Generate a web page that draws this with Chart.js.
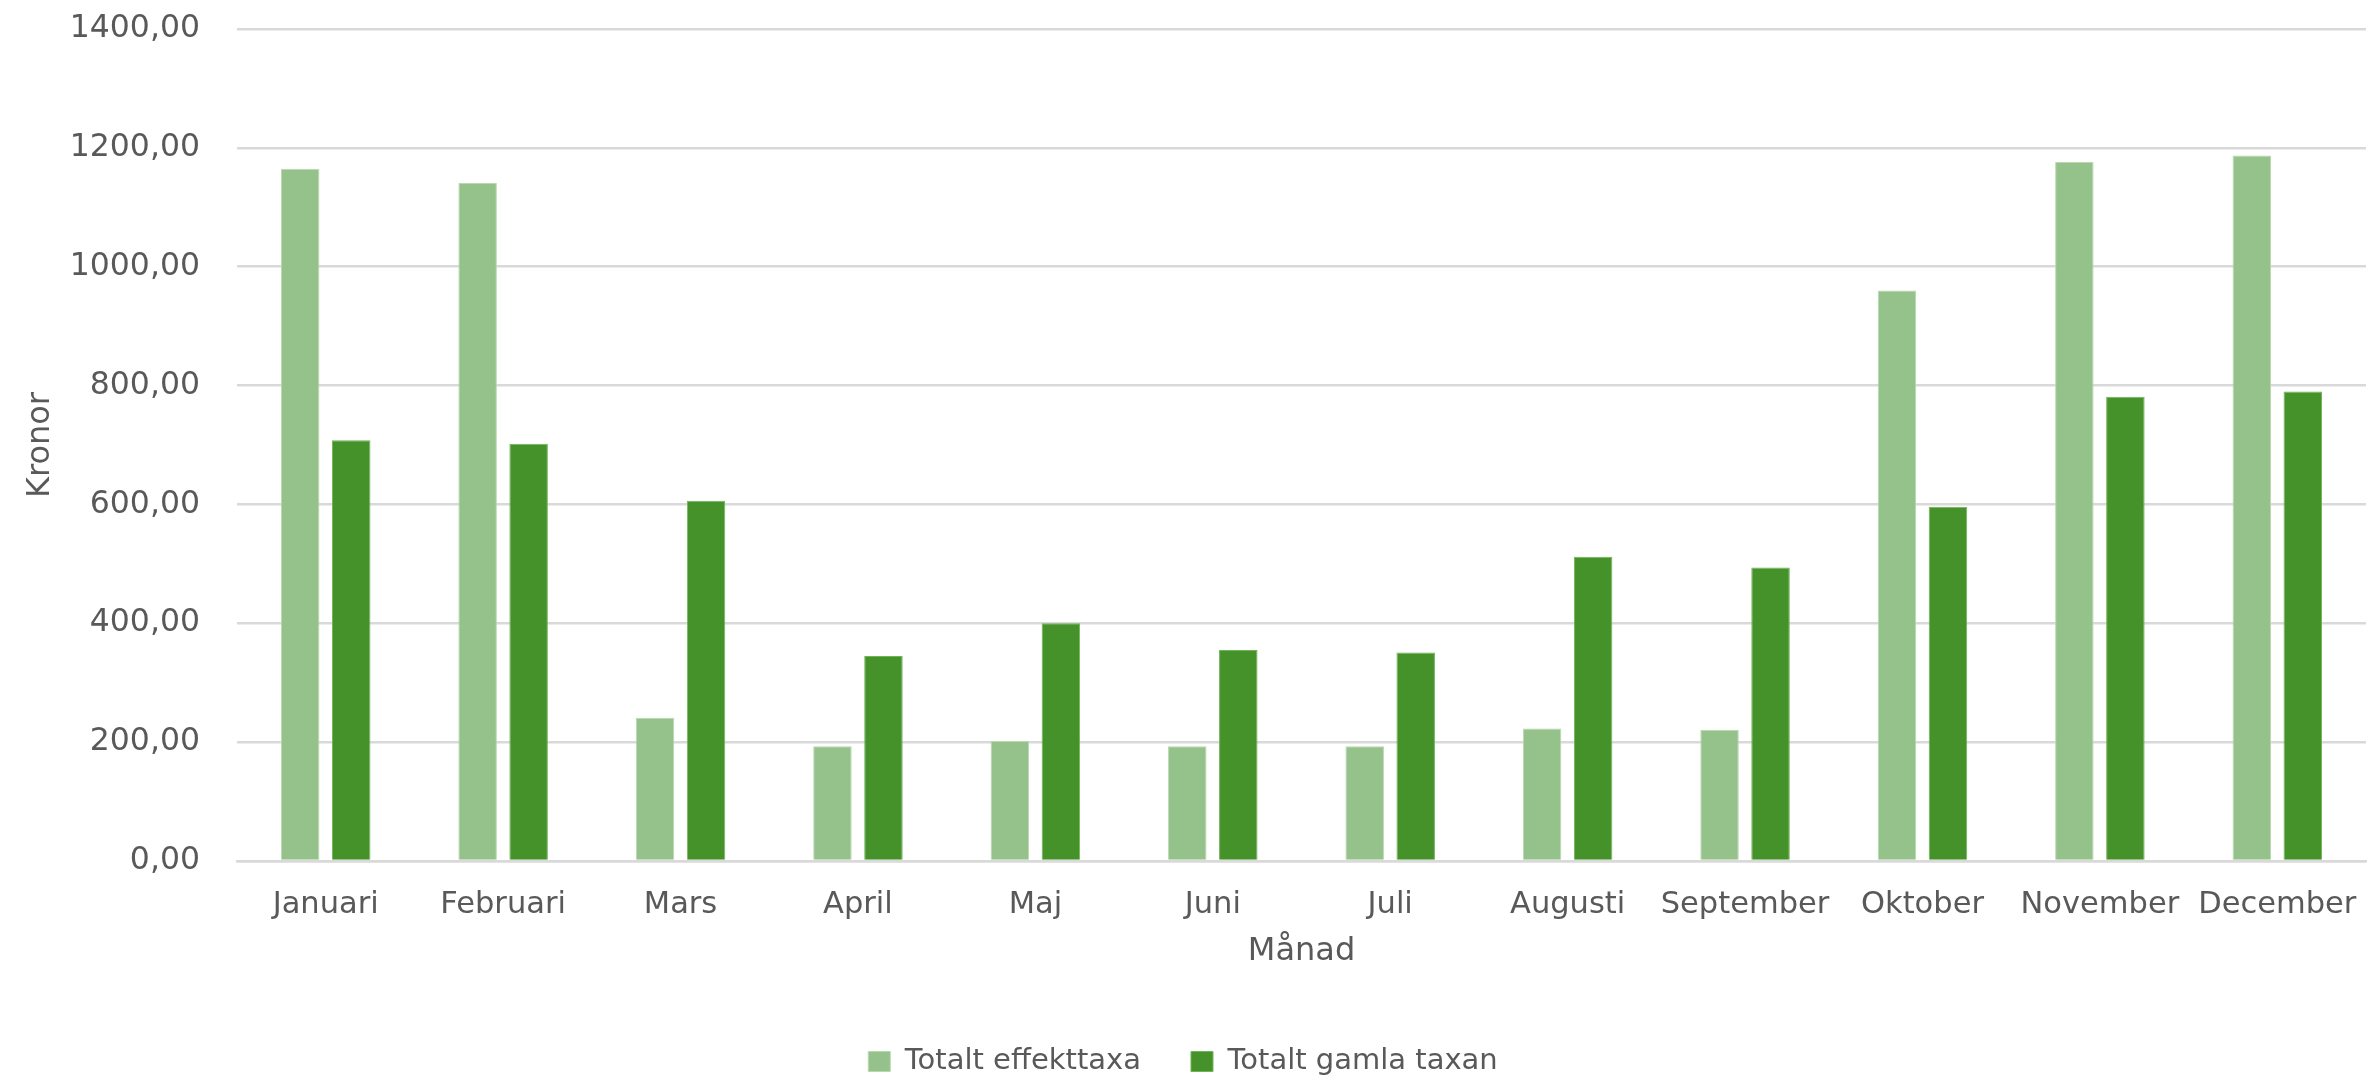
<!DOCTYPE html>
<html>
<head>
<meta charset="utf-8">
<script src="https://cdn.jsdelivr.net/npm/chart.js@4/dist/chart.umd.min.js"></script>
<style>
  html, body { margin: 0; padding: 0; background: #ffffff; }
  #wrap { width: 2367px; height: 1081px; }
</style>
</head>
<body>
<div id="wrap"><canvas id="c" width="2367" height="1081"></canvas></div>
<script>
const months = ["Januari","Februari","Mars","April","Maj","Juni","Juli","Augusti","September","Oktober","November","December"];
const effekttaxa = [1165, 1141, 241, 193, 202, 193, 193, 223, 221, 960, 1176, 1187];
const gamlaTaxan = [708, 702, 606, 345, 400, 355, 351, 512, 494, 596, 781, 790];
const seriesNames = ["Totalt effekttaxa", "Totalt gamla taxan"];
const yTicks = [0, 200, 400, 600, 800, 1000, 1200, 1400];

const FONT = "'DejaVu Sans', sans-serif";
const TXT = "#595959";

function zeroPad(s) { s.paddingTop = 0; s.paddingBottom = 0; s.paddingLeft = 0; s.paddingRight = 0; }

new Chart(document.getElementById('c'), {
  type: 'bar',
  data: {
    labels: months,
    datasets: [
      { label: seriesNames[0], data: effekttaxa, backgroundColor: '#94c28a', borderColor: '#b9d8b0', borderWidth: 1,
        categoryPercentage: 0.575, barPercentage: 0.755 },
      { label: seriesNames[1], data: gamlaTaxan, backgroundColor: '#46922a', borderColor: '#6fb455', borderWidth: 1,
        categoryPercentage: 0.575, barPercentage: 0.755 }
    ]
  },
  options: {
    responsive: false,
    devicePixelRatio: 1,
    animation: false,
    layout: { padding: { top: 29, left: 0, right: 1, bottom: -5 } },
    plugins: {
      tooltip: { enabled: false },
      legend: {
        position: 'bottom',
        labels: {
          font: { family: FONT, size: 29 },
          color: TXT,
          boxWidth: 22,
          boxHeight: 20,
          padding: 50
        }
      }
    },
    scales: {
      x: {
        afterFit: (s) => { s.height = 136; zeroPad(s); },
        grid: { display: false, drawTicks: true, tickLength: 26, tickColor: 'transparent' },
        border: { display: true, color: '#d9d9d9', width: 2.5 },
        ticks: { font: { family: FONT, size: 30.5 }, color: TXT, padding: 0, maxRotation: 0, autoSkip: false },
        title: { display: true, text: 'Månad', font: { family: FONT, size: 32 }, color: TXT,
                 padding: { top: 9, bottom: 26 } }
      },
      y: {
        min: 0, max: 1400,
        afterBuildTicks: (axis) => { axis.ticks = yTicks.map(v => ({ value: v })); },
        afterFit: (s) => { s.width = 237; zeroPad(s); },
        grid: { color: '#d9d9d9', lineWidth: 2.5, drawTicks: true, tickLength: 37, tickColor: 'transparent' },
        border: { display: false },
        ticks: {
          font: { family: FONT, size: 31.5 }, color: TXT, padding: 0,
          callback: (v) => Number(v).toFixed(2).replace('.', ',')
        },
        title: { display: true, text: 'Kronor', font: { family: FONT, size: 32 }, color: TXT,
                 padding: { top: 21, bottom: 4 } }
      }
    }
  }
});
</script>
</body>
</html>
